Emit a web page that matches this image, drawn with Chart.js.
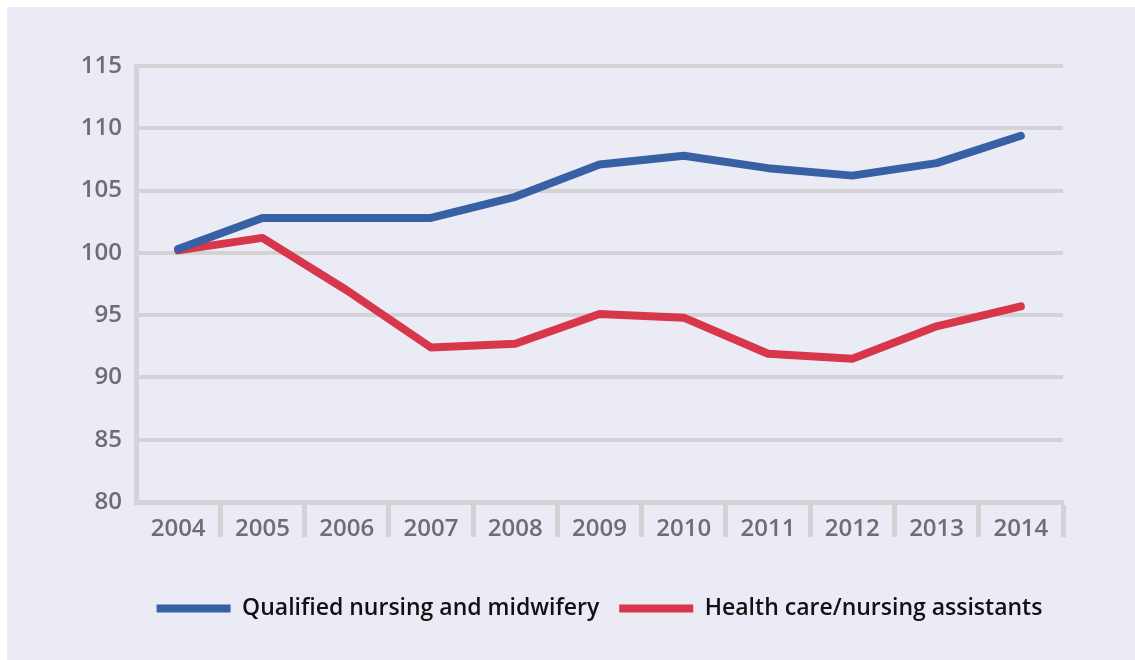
<!DOCTYPE html>
<html>
<head>
<meta charset="utf-8">
<script src="https://cdn.jsdelivr.net/npm/chart.js@4.4.1/dist/chart.umd.min.js"></script>
<style>
  html, body { margin: 0; padding: 0; background: #ffffff; }
  #wrap { position: absolute; left: 7px; top: 7px; width: 1128px; height: 653px; background: #ebebf5; }
</style>
</head>
<body>
<div id="wrap"><canvas id="chart"></canvas></div>
<script>
const years = ["2004", "2005", "2006", "2007", "2008", "2009", "2010", "2011", "2012", "2013", "2014"];
const qualified = [100.3, 102.8, 102.8, 102.8, 104.5, 107.1, 107.8, 106.8, 106.2, 107.2, 109.4];
const assistants = [100.2, 101.2, 97.0, 92.4, 92.7, 95.1, 94.8, 91.9, 91.5, 94.1, 95.7];
const seriesNames = ["Qualified nursing and midwifery", "Health care/nursing assistants"];

const gridGrey = "#d3d3d6";

new Chart(document.getElementById("chart"), {
  type: "line",
  data: {
    labels: years,
    datasets: [
      {
        label: seriesNames[0],
        data: qualified,
        borderColor: "#3761a4",
        backgroundColor: "#3761a4",
        borderWidth: 8,
        borderCapStyle: "round",
        borderJoinStyle: "round",
        pointRadius: 0,
        tension: 0
      },
      {
        label: seriesNames[1],
        data: assistants,
        borderColor: "#d8364a",
        backgroundColor: "#d8364a",
        borderWidth: 8,
        borderCapStyle: "round",
        borderJoinStyle: "round",
        pointRadius: 0,
        tension: 0
      }
    ]
  },
  options: {
    responsive: true,
    maintainAspectRatio: false,
    animation: false,
    layout: { padding: { top: 59, right: 72, bottom: 30, left: 0 } },
    plugins: {
      tooltip: { enabled: false },
      legend: {
        position: "bottom",
        fullSize: false,
        labels: {
          usePointStyle: true,
          pointStyle: "line",
          pointStyleWidth: 74,
          padding: 20,
          color: "#111111",
          font: { family: "'Open Sans'", size: 23, weight: "600" }
        }
      }
    },
    scales: {
      x: {
        offset: true,
        grid: {
          offset: true,
          drawOnChartArea: false,
          drawTicks: true,
          tickLength: 35,
          tickWidth: 5,
          tickColor: c => (c.index === 0 ? "rgba(0,0,0,0)" : gridGrey)
        },
        border: { color: gridGrey, width: 5 },
        ticks: {
          padding: -22,
          color: "#6e6e72",
          font: { family: "'Open Sans'", size: 24, weight: "600" }
        },
        afterFit: s => { s.height = 75; }
      },
      y: {
        min: 80,
        max: 115,
        grid: { color: gridGrey, lineWidth: 4, drawTicks: false },
        border: { color: gridGrey, width: 5 },
        ticks: {
          stepSize: 5,
          padding: 14,
          color: "#6e6e72",
          font: { family: "'Open Sans'", size: 24, weight: "600" }
        },
        afterFit: s => { s.width = 129; }
      }
    }
  }
});
</script>
</body>
</html>
